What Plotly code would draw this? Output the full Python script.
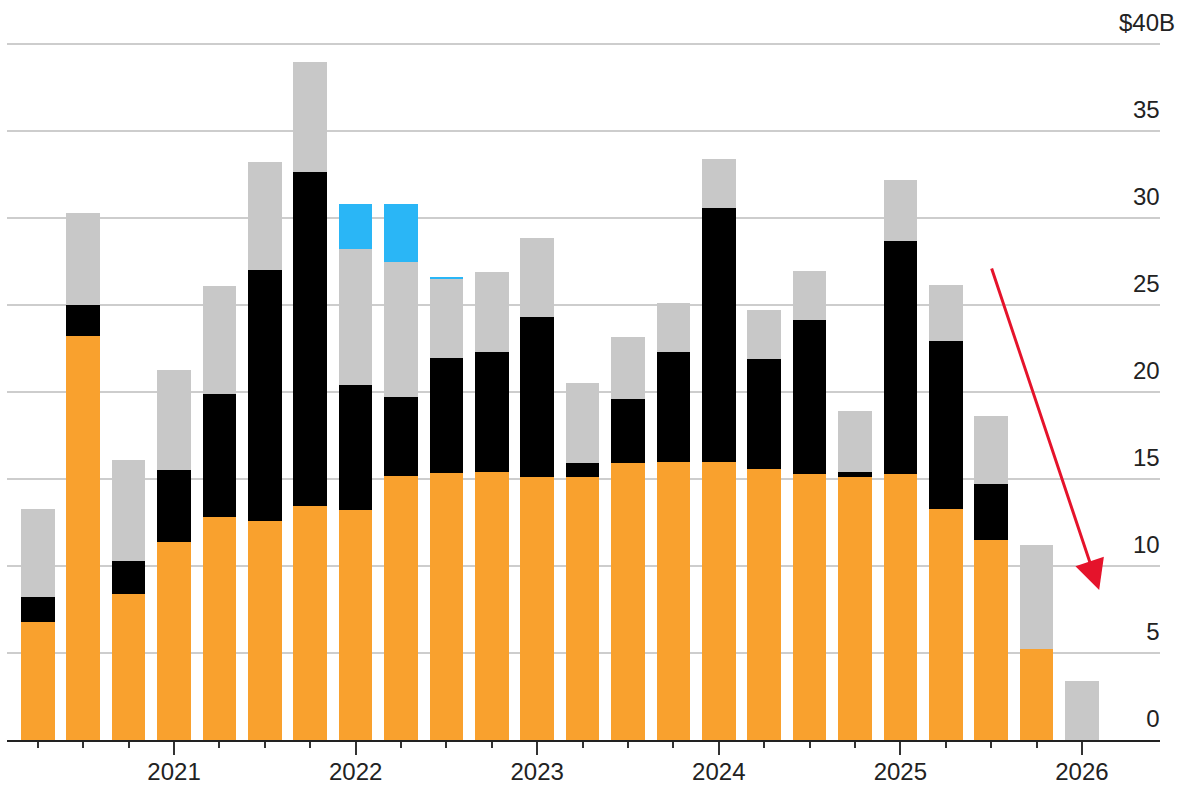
import plotly.graph_objects as go

# ---- data ----
quarters = [
    "Q2 2020", "Q3 2020", "Q4 2020",
    "Q1 2021", "Q2 2021", "Q3 2021", "Q4 2021",
    "Q1 2022", "Q2 2022", "Q3 2022", "Q4 2022",
    "Q1 2023", "Q2 2023", "Q3 2023", "Q4 2023",
    "Q1 2024", "Q2 2024", "Q3 2024", "Q4 2024",
    "Q1 2025", "Q2 2025", "Q3 2025", "Q4 2025",
    "Q1 2026",
]
orange_vals = [6.8, 23.2, 8.4, 11.4, 12.8, 12.6, 13.45, 13.2, 15.2, 15.35, 15.4, 15.1,
               15.1, 15.9, 16.0, 16.0, 15.6, 15.3, 15.1, 15.3, 13.25, 11.5, 5.25, 0]
black_vals = [1.4, 1.8, 1.9, 4.1, 7.1, 14.4, 19.2, 7.2, 4.5, 6.6, 6.9, 9.2,
              0.8, 3.7, 6.3, 14.6, 6.3, 8.85, 0.3, 13.4, 9.7, 3.2, 0, 0]
grey_vals = [5.1, 5.3, 5.8, 5.75, 6.2, 6.2, 6.3, 7.8, 7.8, 4.6, 4.6, 4.55,
             4.6, 3.55, 2.8, 2.8, 2.8, 2.8, 3.5, 3.5, 3.2, 3.95, 5.95, 3.4]
blue_vals = [0, 0, 0, 0, 0, 0, 0, 2.6, 3.3, 0.06, 0, 0,
             0, 0, 0, 0, 0, 0, 0, 0, 0, 0, 0, 0]

year_labels = ["2021", "2022", "2023", "2024", "2025", "2026"]
y_tick_vals = [0, 5, 10, 15, 20, 25, 30, 35, 40]
y_tick_text = ["0", "5", "10", "15", "20", "25", "30", "35", "$40B"]

# ---- styling ----
FONT = "Liberation Sans, Arial, Helvetica, sans-serif"
TEXT = "#222222"
C_ORANGE = "#F9A12E"
C_BLACK = "#000000"
C_GREY = "#C8C8C8"
C_BLUE = "#2AB6F6"
C_RED = "#E5132B"

x_pos = list(range(len(quarters)))
year_pos = [i for i, q in enumerate(quarters) if q.startswith("Q1")]

pad = "\u2007\u200a"
y_text = [t if t.startswith("$") else t + pad for t in y_tick_text]

fig = go.Figure()
for name, vals, col in [("Orange", orange_vals, C_ORANGE),
                        ("Black", black_vals, C_BLACK),
                        ("Grey", grey_vals, C_GREY),
                        ("Blue", blue_vals, C_BLUE)]:
    fig.add_trace(go.Bar(
        x=x_pos, y=vals, name=name, marker=dict(color=col, line=dict(width=0)),
        customdata=quarters, hovertemplate="%{customdata}: %{y}<extra>" + name + "</extra>",
    ))

fig.update_layout(
    barmode="stack",
    bargap=0.26,
    width=1186, height=785,
    margin=dict(l=7, r=26, t=0, b=45),
    paper_bgcolor="white", plot_bgcolor="white",
    showlegend=False,
    font=dict(family=FONT, size=24, color=TEXT),
)

fig.update_xaxes(
    automargin=False,
    range=[-0.68, 24.72],
    tickmode="array", tickvals=year_pos, ticktext=year_labels,
    ticks="outside", ticklen=13, tickwidth=2, tickcolor="#333333",
    ticklabelstandoff=-4,
    showline=True, linecolor="#222222", linewidth=2,
    showgrid=False, zeroline=False,
    tickfont=dict(family=FONT, size=24, color=TEXT),
    minor=dict(tickmode="array", tickvals=x_pos, ticks="outside", ticklen=6,
               tickwidth=2, tickcolor="#333333", showgrid=False),
)

fig.update_yaxes(
    automargin=False,
    range=[0, 42.53],
    side="right",
    tickmode="array", tickvals=y_tick_vals, ticktext=y_text,
    ticklabelposition="inside top",
    ticklabelshift=-5,
    ticklabelstandoff=-18,
    ticks="",
    showgrid=True, gridcolor="#CDCDCD", gridwidth=1.5,
    zeroline=False, showline=False,
    tickfont=dict(family=FONT, size=24, color=TEXT),
)

# red arrow (annotation)
fig.add_annotation(
    x=23.38, y=8.62, ax=21.0, ay=27.18,
    xref="x", yref="y", axref="x", ayref="y",
    text="", showarrow=True,
    arrowhead=2, arrowsize=2.0, arrowwidth=3, arrowcolor=C_RED, standoff=0,
)

fig.write_html("out.html", config={"displayModeBar": False},
               post_script="document.body.style.margin='0';")
